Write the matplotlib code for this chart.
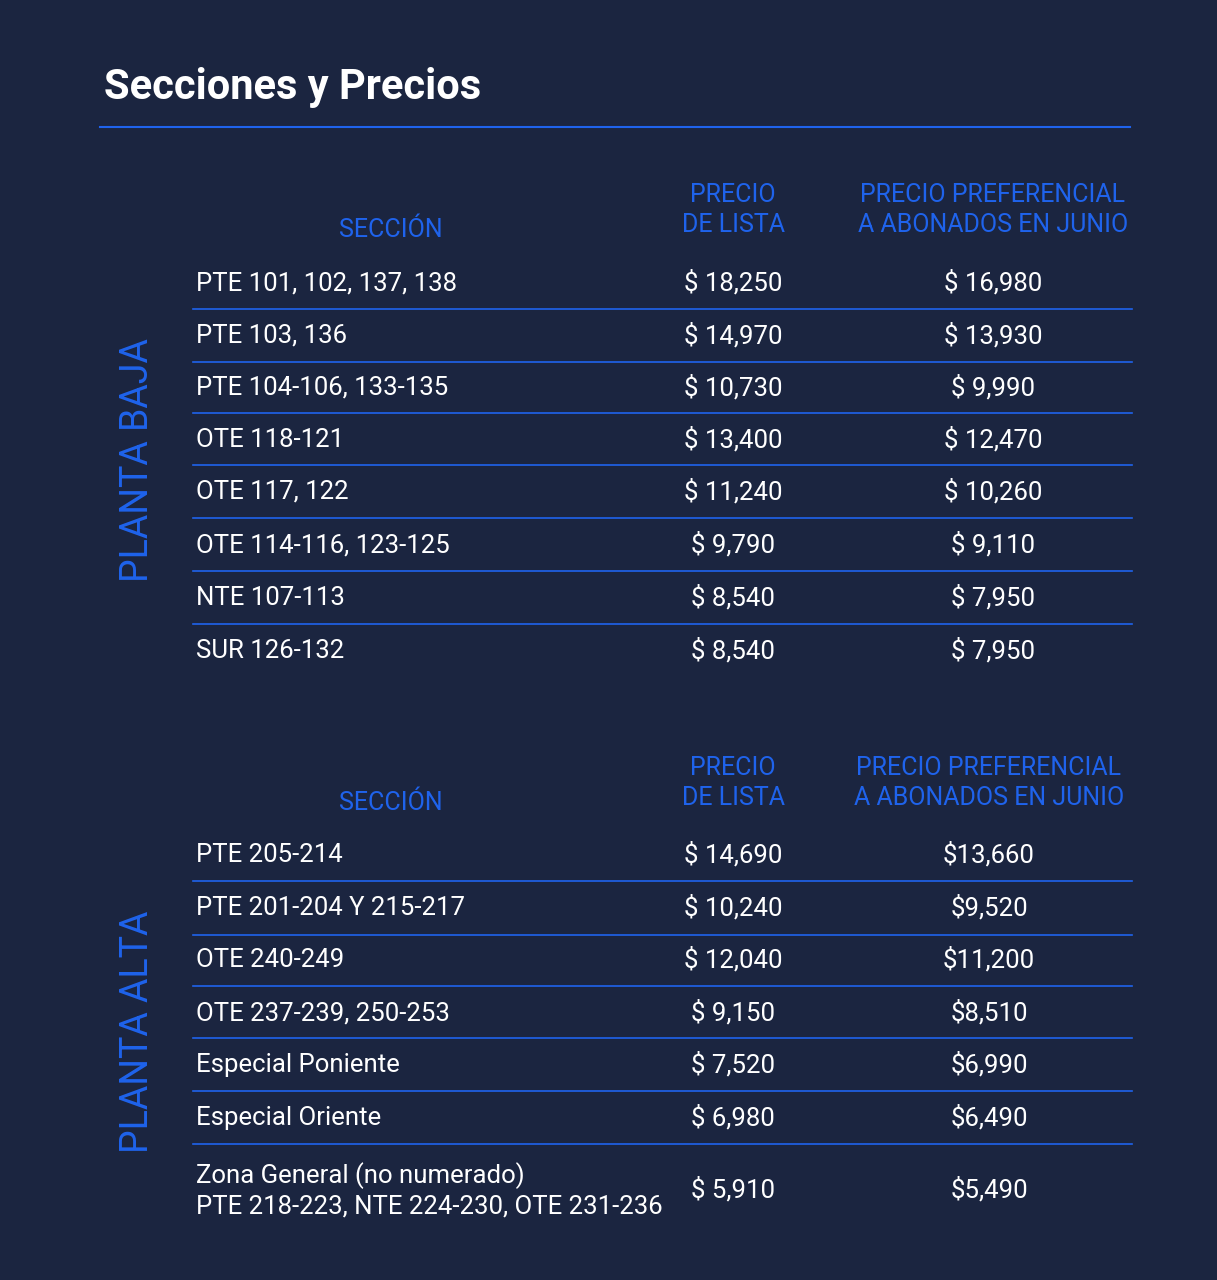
import matplotlib
matplotlib.use("Agg")
import matplotlib.pyplot as plt

FONT = "Roboto"
BG = "#1b2540"
BLUE = "#1f63ec"
WHITE = "#ffffff"

baja_secciones = ["PTE 101, 102, 137, 138", "PTE 103, 136", "PTE 104-106, 133-135", "OTE 118-121",
                  "OTE 117, 122", "OTE 114-116, 123-125", "NTE 107-113", "SUR 126-132"]
baja_lista = ["$ 18,250", "$ 14,970", "$ 10,730", "$ 13,400", "$ 11,240", "$ 9,790", "$ 8,540", "$ 8,540"]
baja_pref = ["$ 16,980", "$ 13,930", "$ 9,990", "$ 12,470", "$ 10,260", "$ 9,110", "$ 7,950", "$ 7,950"]

alta_secciones = ["PTE 205-214", "PTE 201-204 Y 215-217", "OTE 240-249", "OTE 237-239, 250-253",
                  "Especial Poniente", "Especial Oriente",
                  "Zona General (no numerado)\nPTE 218-223, NTE 224-230, OTE 231-236"]
alta_lista = ["$ 14,690", "$ 10,240", "$ 12,040", "$ 9,150", "$ 7,520", "$ 6,980", "$ 5,910"]
alta_pref = ["$13,660", "$9,520", "$11,200", "$8,510", "$6,990", "$6,490", "$5,490"]

fig = plt.figure(figsize=(12.17, 12.8), dpi=100, facecolor=BG)
ax = fig.add_axes([0, 0, 1, 1])
ax.set_xlim(0, 1217); ax.set_ylim(1280, 0); ax.axis("off")
ax.set_facecolor(BG)

ax.text(104, 88, "Secciones y Precios", color=WHITE, fontsize=30, fontweight="bold",
        family=FONT, va="center", ha="left")
ax.plot([100, 1130], [127, 127], color=BLUE, lw=1.5)

FS = 18.5
HFS = 18

def block(secs, lista, pref, ys, seps, hy, prefx, label, labely):
    ax.text(391, hy + 20, "SECCIÓN", color=BLUE, fontsize=HFS, family=FONT, ha="center", va="center")
    ax.text(733, hy, "PRECIO\nDE LISTA", color=BLUE, fontsize=HFS, family=FONT, ha="center",
            va="center", linespacing=1.3)
    ax.text(prefx, hy, "PRECIO PREFERENCIAL\nA ABONADOS EN JUNIO", color=BLUE, fontsize=HFS,
            family=FONT, ha="center", va="center", linespacing=1.3)
    for s, l, p, y in zip(secs, lista, pref, ys):
        ax.text(196, y, s, color=WHITE, fontsize=FS, family=FONT, ha="left", va="center",
                linespacing=1.3)
        ax.text(733, y, l, color=WHITE, fontsize=FS, family=FONT, ha="center", va="center")
        ax.text(prefx, y, p, color=WHITE, fontsize=FS, family=FONT, ha="center", va="center")
    for y in seps:
        ax.plot([193, 1132], [y, y], color=BLUE, lw=1.2)
    ax.text(137, labely, label, color=BLUE, fontsize=27, family=FONT, rotation=90,
            ha="center", va="center")

block(baja_secciones, baja_lista, baja_pref,
      [283, 336, 388, 440, 492, 545, 598, 651],
      [309, 362, 413, 465, 518, 571, 624], 210, 993, "PLANTA BAJA", 460)
block(alta_secciones, alta_lista, alta_pref,
      [855, 908, 960, 1013, 1065, 1118, 1190],
      [881, 935, 986, 1038, 1091, 1144], 783, 989, "PLANTA ALTA", 1032)

fig.savefig("out.png", dpi=100, facecolor=BG)
